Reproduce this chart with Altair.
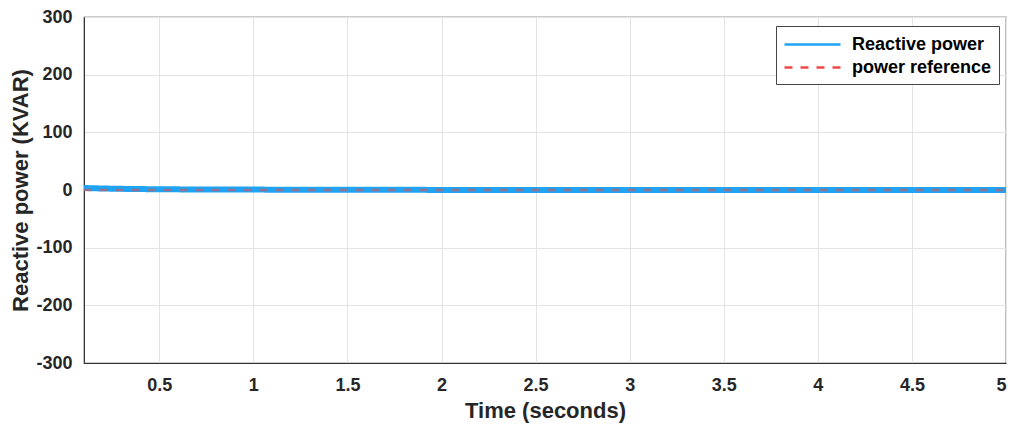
import altair as alt
import pandas as pd

# Time samples (s) and measured reactive power (kVAR)
time_s = [0.1, 0.15, 0.2, 0.3, 0.4, 0.5, 0.75, 1.0, 1.25, 1.5, 1.75, 2.0, 2.25, 2.5,
          2.75, 3.0, 3.25, 3.5, 3.75, 4.0, 4.25, 4.5, 4.75, 5.0]
reactive_power = [3.5, 3.0, 2.6, 2.0, 1.6, 1.3, 0.9, 0.7, 0.5, 0.4, 0.3, 0.2, 0.2, 0.1,
                  0.1, 0.1, 0.0, 0.0, 0.0, 0.0, 0.0, -0.1, -0.1, -0.1]
reference_time = [0.1, 5.0]
reference_value = [0.0, 0.0]

series_names = ["Reactive power", "power reference"]
x_ticks = [0.5, 1, 1.5, 2, 2.5, 3, 3.5, 4, 4.5, 5]
y_ticks = [-300, -200, -100, 0, 100, 200, 300]

df_meas = pd.DataFrame({"t": time_s, "q": reactive_power, "s": series_names[0]})
df_ref = pd.DataFrame({"t": reference_time, "q": reference_value, "s": series_names[1]})

FONT = "Liberation Sans"
TXT = "#262626"

x_enc = alt.X("t:Q", scale=alt.Scale(domain=[0.1, 5], nice=False, zero=False),
              axis=alt.Axis(values=x_ticks, title="Time (seconds)", labelExpr="datum.value + ''"))
y_enc = alt.Y("q:Q", scale=alt.Scale(domain=[-300, 300], nice=False),
              axis=alt.Axis(values=y_ticks, title="Reactive power (KVAR)", labelExpr="datum.value + ''"))
color_enc = alt.Color("s:N", scale=alt.Scale(domain=series_names, range=["#1ea4f2", "#ee4848"]),
                      legend=alt.Legend(title=None, orient="none", legendX=692, legendY=9,
                                        symbolType="M-2.8,0H2.8", symbolSize=400,
                                        symbolStrokeWidth=2.5, symbolOffset=18, labelOffset=28,
                                        labelFont=FONT, labelFontSize=18,
                                        labelFontWeight="bold", labelColor="black",
                                        strokeColor="#444444", fillColor="white",
                                        padding=7, rowPadding=2))
dash_enc = alt.StrokeDash("s:N", scale=alt.Scale(domain=series_names, range=[[1, 0], [8, 8]]),
                          legend=None)

meas = alt.Chart(df_meas).mark_line(strokeWidth=6, interpolate="monotone").encode(
    x=x_enc, y=y_enc, color=color_enc, strokeDash=dash_enc)
ref = alt.Chart(df_ref).mark_line(strokeWidth=2.5, strokeOpacity=0.55).encode(
    x=x_enc, y=y_enc, color=color_enc, strokeDash=dash_enc)

chart = alt.layer(meas, ref).properties(
    width=922, height=346,
    autosize=alt.AutoSizeParams(type="none"),
    padding={"left": 76, "top": 9, "right": 2, "bottom": 65},
).configure_view(stroke="#333333", strokeWidth=1.2).configure_axis(
    labelFont=FONT, labelFontSize=18, labelFontWeight="bold", labelColor=TXT,
    titleFont=FONT, titleFontSize=22, titleFontWeight="bold", titleColor=TXT,
    gridColor="#e3e3e3", gridWidth=1, domainColor="#333333", tickSize=0,
).configure_axisX(labelPadding=13, titlePadding=6, domain=True
).configure_axisY(labelPadding=12, titlePadding=3, domain=True)

chart.save("out.html", embed_options={"renderer": "svg", "actions": False})
